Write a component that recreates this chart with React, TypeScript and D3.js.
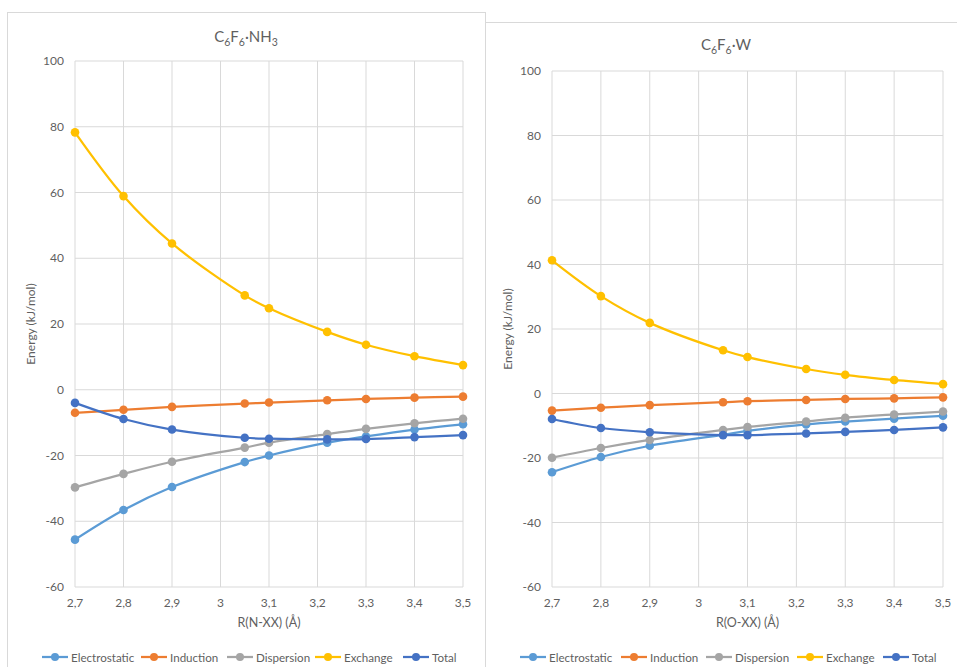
import React from 'react';
import * as d3 from 'd3';

// distances (Å) shared by both panels
const distances = [2.7, 2.8, 2.9, 3.05, 3.1, 3.22, 3.3, 3.4, 3.5];
const seriesNames = ['Electrostatic', 'Induction', 'Dispersion', 'Exchange', 'Total'];
const seriesColors = ['#5B9BD5', '#ED7D31', '#A5A5A5', '#FFC000', '#4472C4'];
const yTicks = [-60, -40, -20, 0, 20, 40, 60, 80, 100];
const xTicks = [2.7, 2.8, 2.9, 3.0, 3.1, 3.2, 3.3, 3.4, 3.5];

// C6F6·NH3
const nh3Electrostatic = [-45.6, -36.6, -29.6, -22.0, -20.0, -16.1, -14.2, -12.1, -10.5];
const nh3Induction = [-7.0, -6.1, -5.2, -4.2, -3.9, -3.2, -2.8, -2.4, -2.1];
const nh3Dispersion = [-29.7, -25.6, -21.9, -17.6, -16.1, -13.5, -11.9, -10.2, -8.8];
const nh3Exchange = [78.3, 58.9, 44.5, 28.7, 24.8, 17.6, 13.7, 10.2, 7.5];
const nh3Total = [-4.0, -8.9, -12.1, -14.6, -14.9, -15.1, -15.0, -14.4, -13.8];

// C6F6·W
const wElectrostatic = [-24.4, -19.7, -16.2, -12.8, -11.6, -9.6, -8.7, -7.8, -6.9];
const wInduction = [-5.3, -4.4, -3.6, -2.7, -2.4, -2.0, -1.7, -1.5, -1.2];
const wDispersion = [-19.9, -16.9, -14.4, -11.3, -10.4, -8.7, -7.5, -6.5, -5.6];
const wExchange = [41.3, 30.2, 21.9, 13.4, 11.3, 7.6, 5.8, 4.2, 2.9];
const wTotal = [-7.9, -10.7, -12.0, -12.9, -12.9, -12.4, -11.9, -11.3, -10.5];

const FONT = 'Lato, "Open Sans", sans-serif';
const TEXT = '#5F5F5F';
const GRID = '#D9D9D9';

const fmtX = (v) => String(+v.toFixed(2)).replace('.', ',');

const Panel = ({ box, plot, title, xTitle, series, legendX }) => {
  const x = d3.scaleLinear().domain([2.7, 3.5]).range([plot.left, plot.right]);
  const y = d3.scaleLinear().domain([-60, 100]).range([plot.bottom, plot.top]);
  const line = d3.line()
    .x((d) => x(d[0]))
    .y((d) => y(d[1]))
    .curve(d3.curveCatmullRom.alpha(0.5));

  return (
    <g>
      <rect x={box.x + 0.5} y={box.y + 0.5} width={box.w} height={box.h} fill="#fff" stroke="#D9D9D9" />
      <text x={title.x} y={title.y} textAnchor="middle" fontSize={15} fill={TEXT} fontFamily={FONT}>
        {title.parts.map((p, i) =>
          p.sub ? (
            <tspan key={i} fontSize={10.5} dy={4}>{p.t}</tspan>
          ) : (
            <tspan key={i} dy={i > 0 && title.parts[i - 1].sub ? -4 : 0}>{p.t}</tspan>
          )
        )}
      </text>
      {yTicks.map((t) => (
        <g key={'y' + t}>
          <line x1={plot.left} x2={plot.right} y1={y(t)} y2={y(t)} stroke={GRID} strokeWidth={1} />
          <text x={plot.left - 11} y={y(t) + 4} textAnchor="end" fontSize={12} fill={TEXT} fontFamily={FONT}>{t}</text>
        </g>
      ))}
      {xTicks.map((t) => (
        <g key={'x' + t}>
          <line x1={x(t)} x2={x(t)} y1={plot.top} y2={plot.bottom} stroke={GRID} strokeWidth={1} />
          <text x={x(t)} y={plot.bottom + 20} textAnchor="middle" fontSize={12} fill={TEXT} fontFamily={FONT}>{fmtX(t)}</text>
        </g>
      ))}
      <text
        transform={`translate(${plot.left - 40},${(plot.top + plot.bottom) / 2}) rotate(-90)`}
        textAnchor="middle" fontSize={12} fill={TEXT} fontFamily={FONT}
      >Energy (kJ/mol)</text>
      <text x={(plot.left + plot.right) / 2} y={plot.bottom + 40} textAnchor="middle" fontSize={12.5} fill={TEXT} fontFamily={FONT}>{xTitle}</text>
      {series.map((s, i) => {
        const pts = distances.map((d, k) => [d, s[k]]);
        return (
          <g key={'s' + i}>
            <path d={line(pts)} fill="none" stroke={seriesColors[i]} strokeWidth={2.25} />
            {pts.map((p, k) => (
              <circle key={k} cx={x(p[0])} cy={y(p[1])} r={4.3} fill={seriesColors[i]} />
            ))}
          </g>
        );
      })}
      {seriesNames.map((n, i) => (
        <g key={'l' + n} transform={`translate(${legendX[i]},${plot.bottom + 70})`}>
          <line x1={0} x2={26} y1={0} y2={0} stroke={seriesColors[i]} strokeWidth={2.25} />
          <circle cx={13} cy={0} r={4} fill={seriesColors[i]} />
          <text x={29} y={4.5} fontSize={11.6} fill={TEXT} fontFamily={FONT}>{n}</text>
        </g>
      ))}
    </g>
  );
};

const App = () => {
  return (
    <svg width={957} height={667} style={{ position: 'absolute', left: 0, top: 0, background: '#fff' }}>
      <rect width={957} height={667} fill="#fff" />
      <Panel
        box={{ x: 7, y: 12, w: 478, h: 700 }}
        plot={{ left: 75, right: 463, top: 61, bottom: 587 }}
        title={{ x: 246, y: 42, parts: [{ t: 'C' }, { t: '6', sub: true }, { t: 'F' }, { t: '6', sub: true }, { t: '·NH' }, { t: '3', sub: true }] }}
        xTitle="R(N-XX) (Å)"
        series={[nh3Electrostatic, nh3Induction, nh3Dispersion, nh3Exchange, nh3Total]}
        legendX={[42, 141, 227, 315, 403]}
      />
      <Panel
        box={{ x: 485, y: 22, w: 480, h: 700 }}
        plot={{ left: 552, right: 943, top: 71, bottom: 587 }}
        title={{ x: 726, y: 50, parts: [{ t: 'C' }, { t: '6', sub: true }, { t: 'F' }, { t: '6', sub: true }, { t: '·W' }] }}
        xTitle="R(O-XX) (Å)"
        series={[wElectrostatic, wInduction, wDispersion, wExchange, wTotal]}
        legendX={[520, 621, 706, 797, 883]}
      />
    </svg>
  );
};

export default App;
